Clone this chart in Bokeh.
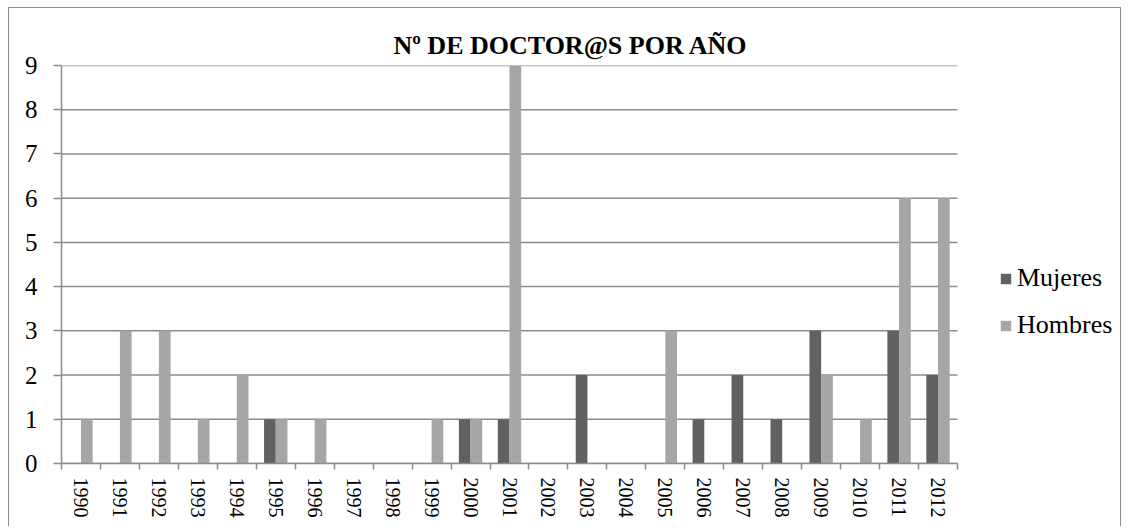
import numpy as np
from bokeh.plotting import figure
from bokeh.models import (Range1d, LinearAxis, FixedTicker, CustomJSTickFormatter,
                          Legend, LegendItem, ColumnDataSource)
from bokeh.embed import file_html
from bokeh.resources import INLINE

years = ["1990", "1991", "1992", "1993", "1994", "1995", "1996", "1997", "1998", "1999",
         "2000", "2001", "2002", "2003", "2004", "2005", "2006", "2007", "2008", "2009",
         "2010", "2011", "2012"]
mujeres = [0, 0, 0, 0, 0, 1, 0, 0, 0, 0, 1, 1, 0, 2, 0, 0, 1, 2, 1, 3, 0, 3, 2]
hombres = [1, 3, 3, 1, 2, 1, 1, 0, 0, 1, 1, 9, 0, 0, 0, 3, 0, 0, 0, 2, 1, 6, 6]
y_ticks = [0, 1, 2, 3, 4, 5, 6, 7, 8, 9]
title_text = "Nº DE DOCTOR@S POR AÑO"

n = len(years)
idx = np.arange(n)
src = ColumnDataSource(dict(x_m=idx + 0.35, x_h=idx + 0.65, m=mujeres, h=hombres))

FONT = "Liberation Serif"
GRID = "#8c8c8c"

W, H = 1113, 519
LEFT = 52
PLOT_W = 896  # width of the category area in px
FRAME_W = W - LEFT  # frame extends to the right edge so the legend is not clipped
x_end = n * FRAME_W / PLOT_W

p = figure(width=W, height=H, output_backend="svg", toolbar_location=None,
           x_range=Range1d(0, x_end), y_range=Range1d(0, max(y_ticks)),
           x_axis_type=None, y_axis_type=None,
           min_border_left=LEFT, min_border_right=0, min_border_top=57, min_border_bottom=64,
           styles={"border-top": "1px solid #8c8c8c", "border-left": "1px solid #8c8c8c",
                   "border-right": "1px solid #8c8c8c",
                   "margin-left": "8px", "margin-top": "7px"})
p.outline_line_color = None
p.xgrid.visible = False
p.ygrid.visible = False

# horizontal grid lines limited to the category area
p.segment(x0=[0] * len(y_ticks), x1=[n] * len(y_ticks), y0=y_ticks, y1=y_ticks,
          line_color=GRID, line_width=1.5)

r1 = p.vbar(x="x_m", top="m", width=0.3, bottom=0, source=src,
            fill_color="#616161", line_color=None)
r2 = p.vbar(x="x_h", top="h", width=0.3, bottom=0, source=src,
            fill_color="#a6a6a6", line_color=None)

# y axis
ya = LinearAxis(ticker=FixedTicker(ticks=y_ticks, minor_ticks=[]))
ya.axis_line_color = GRID
ya.axis_line_width = 1.5
ya.major_tick_line_color = GRID
ya.major_tick_line_width = 1.5
ya.major_tick_out = 8
ya.major_tick_in = 0
ya.minor_tick_line_color = None
ya.major_label_text_font = FONT
ya.major_label_text_font_size = "25px"
ya.major_label_text_color = "black"
ya.major_label_standoff = 16
p.add_layout(ya, "left")

# x axis: labels at category centers, tick marks at boundaries
xa = LinearAxis(ticker=FixedTicker(ticks=list(idx + 0.5), minor_ticks=list(range(n + 1))),
                formatter=CustomJSTickFormatter(args=dict(years=years),
                                                code="return years[Math.floor(tick)];"),
                bounds=(0, n))
xa.axis_line_color = GRID
xa.axis_line_width = 1.5
xa.major_tick_line_color = None
xa.minor_tick_line_color = GRID
xa.minor_tick_line_width = 1.5
xa.minor_tick_out = 6
xa.minor_tick_in = 0
xa.major_label_orientation = "vertical"
xa.major_label_text_font = FONT
xa.major_label_text_font_size = "20px"
xa.major_label_text_color = "black"
xa.major_label_standoff = 8
p.add_layout(xa, "below")

p.title.text = title_text
p.title.text_font = FONT
p.title.text_font_size = "26px"
p.title.text_font_style = "bold"
p.title.text_color = "black"
p.title.align = "left"
p.title.offset = 332
p.title.standoff = 12

legend = Legend(items=[LegendItem(label="Mujeres", renderers=[r1]),
                       LegendItem(label="Hombres", renderers=[r2])],
                location=(938, 123))
legend.padding = 0
legend.margin = 0
legend.border_line_color = None
legend.background_fill_alpha = 0
legend.label_text_font = FONT
legend.label_text_font_size = "26px"
legend.label_text_color = "black"
legend.glyph_width = 13
legend.glyph_height = 13
legend.label_height = 30
legend.spacing = 17
legend.label_standoff = 5
p.add_layout(legend, "center")

open("out.html", "w").write(file_html(p, INLINE))
